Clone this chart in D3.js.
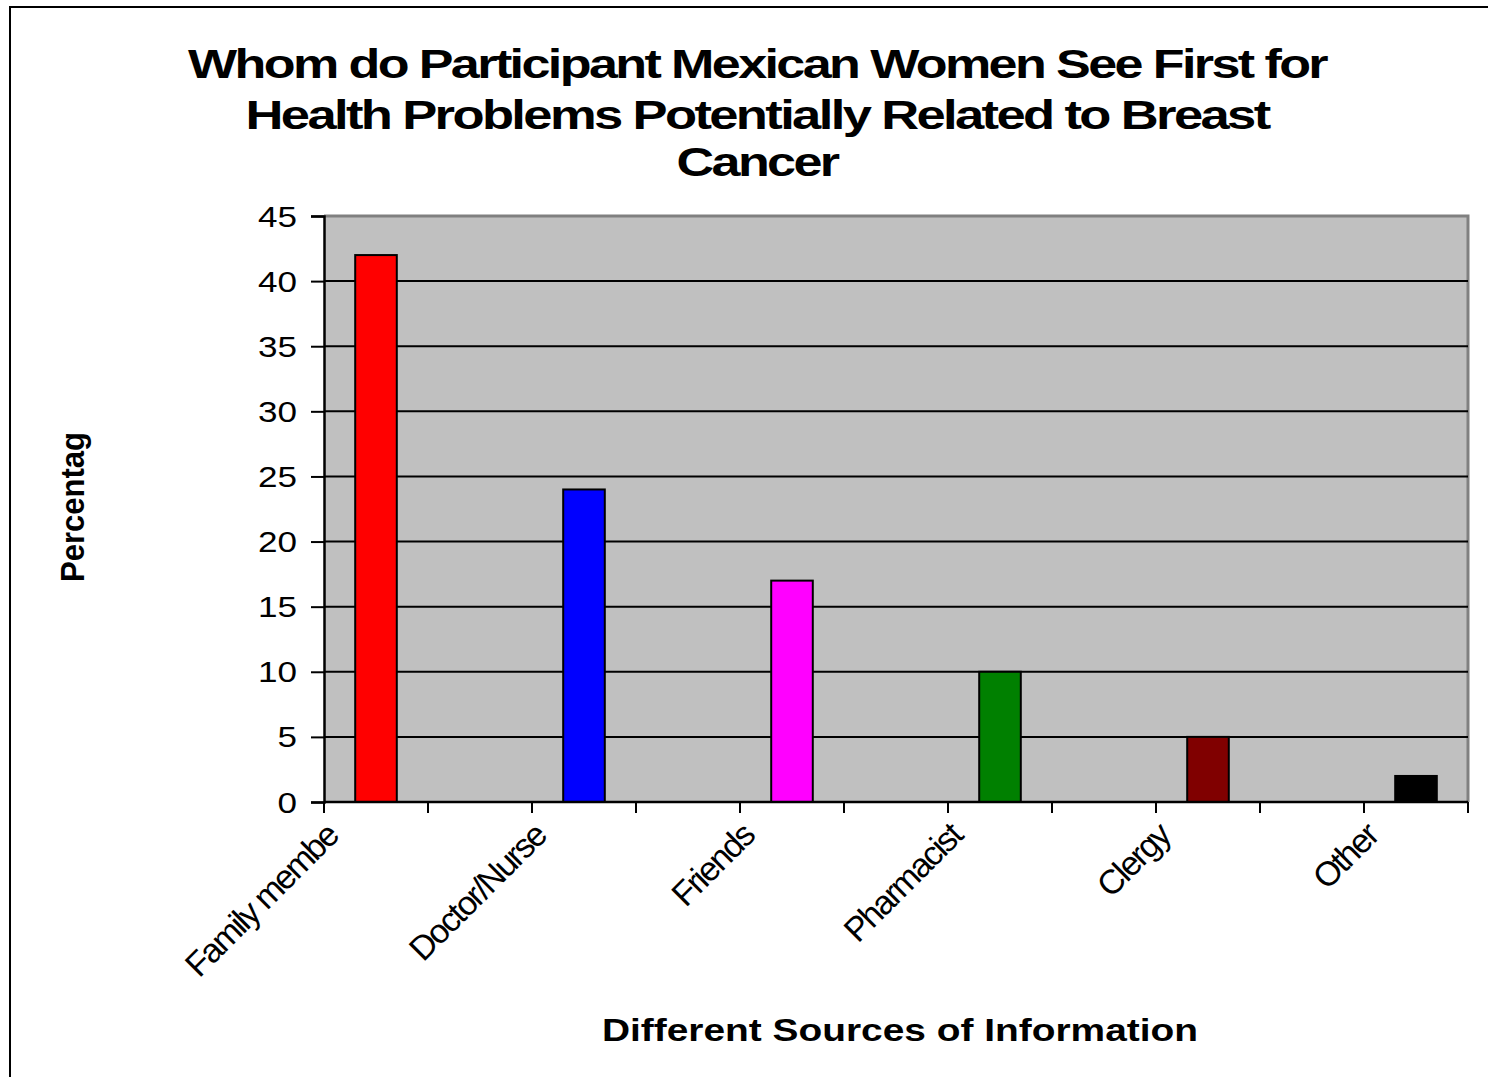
<!DOCTYPE html>
<html><head><meta charset="utf-8">
<script src="https://cdn.jsdelivr.net/npm/d3@7"></script>
<style>body{margin:0;background:#fff;} svg{display:block;font-family:"Liberation Sans",Arial,sans-serif;}</style>
</head><body>
<script>
const categories = ["Family membe", "", "Doctor/Nurse", "", "Friends", "", "Pharmacist", "", "Clergy", "", "Other"];
const values = [42, null, 24, null, 17, null, 10, null, 5, null, 2];
const barColors = ["#ff0000", null, "#0000ff", null, "#ff00ff", null, "#008000", null, "#800000", null, "#000000"];
const yTicks = [0, 5, 10, 15, 20, 25, 30, 35, 40, 45];
const titleLines = ["Whom do Participant Mexican Women See First for", "Health Problems Potentially Related to Breast", "Cancer"];
const yTitle = "Percentag";
const xTitle = "Different Sources of Information";

const W = 1488, H = 1077;
const svg = d3.select("body").append("svg").attr("width", W).attr("height", H);

// outer frame
svg.append("rect").attr("x", 10).attr("y", 7).attr("width", W + 20).attr("height", H + 20)
  .attr("fill", "#fff").attr("stroke", "#000").attr("stroke-width", 2);

const L = 324, R = 1468, T = 216, B = 802;
const x = d3.scaleBand().domain(d3.range(categories.length)).range([L, R]).paddingInner(0).paddingOuter(0);
const y = d3.scaleLinear().domain([0, 45]).range([B, T]);

// plot background
svg.append("rect").attr("x", L).attr("y", T).attr("width", R - L).attr("height", B - T).attr("fill", "#c0c0c0");
// gray border top/right
svg.append("path").attr("d", `M${L},${T}H${R}V${B}`).attr("fill", "none").attr("stroke", "#808080").attr("stroke-width", 3);

// gridlines
svg.append("g").selectAll("line").data(yTicks.filter(d => d > 0 && d < 45)).join("line")
  .attr("x1", L).attr("x2", R).attr("y1", d => y(d)).attr("y2", d => y(d))
  .attr("stroke", "#000").attr("stroke-width", 2);

// bars
const bw = x.bandwidth() * 0.4;
svg.append("g").selectAll("rect").data(values.map((v, i) => ({v, i})).filter(d => d.v != null)).join("rect")
  .attr("x", d => x(d.i) + (x.bandwidth() - bw) / 2)
  .attr("y", d => y(d.v))
  .attr("width", bw)
  .attr("height", d => B - y(d.v))
  .attr("fill", d => barColors[d.i])
  .attr("stroke", "#000").attr("stroke-width", 2);

// y axis
const yAxis = svg.append("g").attr("transform", `translate(${L},0)`)
  .call(d3.axisLeft(y).tickValues(yTicks).tickSize(13).tickPadding(0).tickFormat(d3.format("d")));
yAxis.select(".domain").attr("stroke", "#000").attr("stroke-width", 2.5);
yAxis.selectAll(".tick line").attr("stroke", "#000").attr("stroke-width", 2);
yAxis.selectAll(".tick text").remove();
yAxis.selectAll(".tick").append("text")
  .attr("x", -27).attr("y", 10).attr("text-anchor", "end")
  .attr("font-size", 29).attr("fill", "#000")
  .attr("textLength", d => String(d).length * 19.5).attr("lengthAdjust", "spacingAndGlyphs")
  .text(d => d);

// x axis
const xAxis = svg.append("g").attr("transform", `translate(0,${B})`);
xAxis.append("line").attr("x1", L).attr("x2", R).attr("stroke", "#000").attr("stroke-width", 2.5);
const tickPos = d3.range(categories.length + 1).map(i => L + i * x.step());
xAxis.selectAll(".xt").data(tickPos).join("line").attr("class", "xt")
  .attr("x1", d => d).attr("x2", d => d).attr("y1", 0).attr("y2", 11)
  .attr("stroke", "#000").attr("stroke-width", 2);
xAxis.selectAll(".xl").data(categories.map((c, i) => ({c, i})).filter(d => d.c)).join("text").attr("class", "xl")
  .attr("transform", d => `translate(${x(d.i) + x.bandwidth() / 2 - 36},${36}) rotate(-45)`)
  .attr("text-anchor", "end").attr("font-size", 34).attr("letter-spacing", -2).attr("fill", "#000")
  .text(d => d.c);

// title
const tl = [1138, 1023, 161];
const tb = [78, 129, 176];
svg.append("g").selectAll("text").data(titleLines).join("text")
  .attr("x", 757).attr("y", (d, i) => tb[i]).attr("text-anchor", "middle")
  .attr("font-size", 40).attr("font-weight", "bold").attr("fill", "#000")
  .attr("letter-spacing", -2)
  .attr("textLength", (d, i) => tl[i]).attr("lengthAdjust", "spacingAndGlyphs")
  .text(d => d);

// y title
svg.append("text").attr("transform", `translate(84,507) rotate(-90)`).attr("text-anchor", "middle")
  .attr("font-size", 33).attr("font-weight", "bold").attr("fill", "#000")
  .attr("textLength", 150).attr("lengthAdjust", "spacingAndGlyphs").text(yTitle);

// x title
svg.append("text").attr("x", 900).attr("y", 1041).attr("text-anchor", "middle")
  .attr("font-size", 32).attr("font-weight", "bold").attr("fill", "#000")
  .attr("textLength", 596).attr("lengthAdjust", "spacingAndGlyphs").text(xTitle);
</script>
</body></html>
